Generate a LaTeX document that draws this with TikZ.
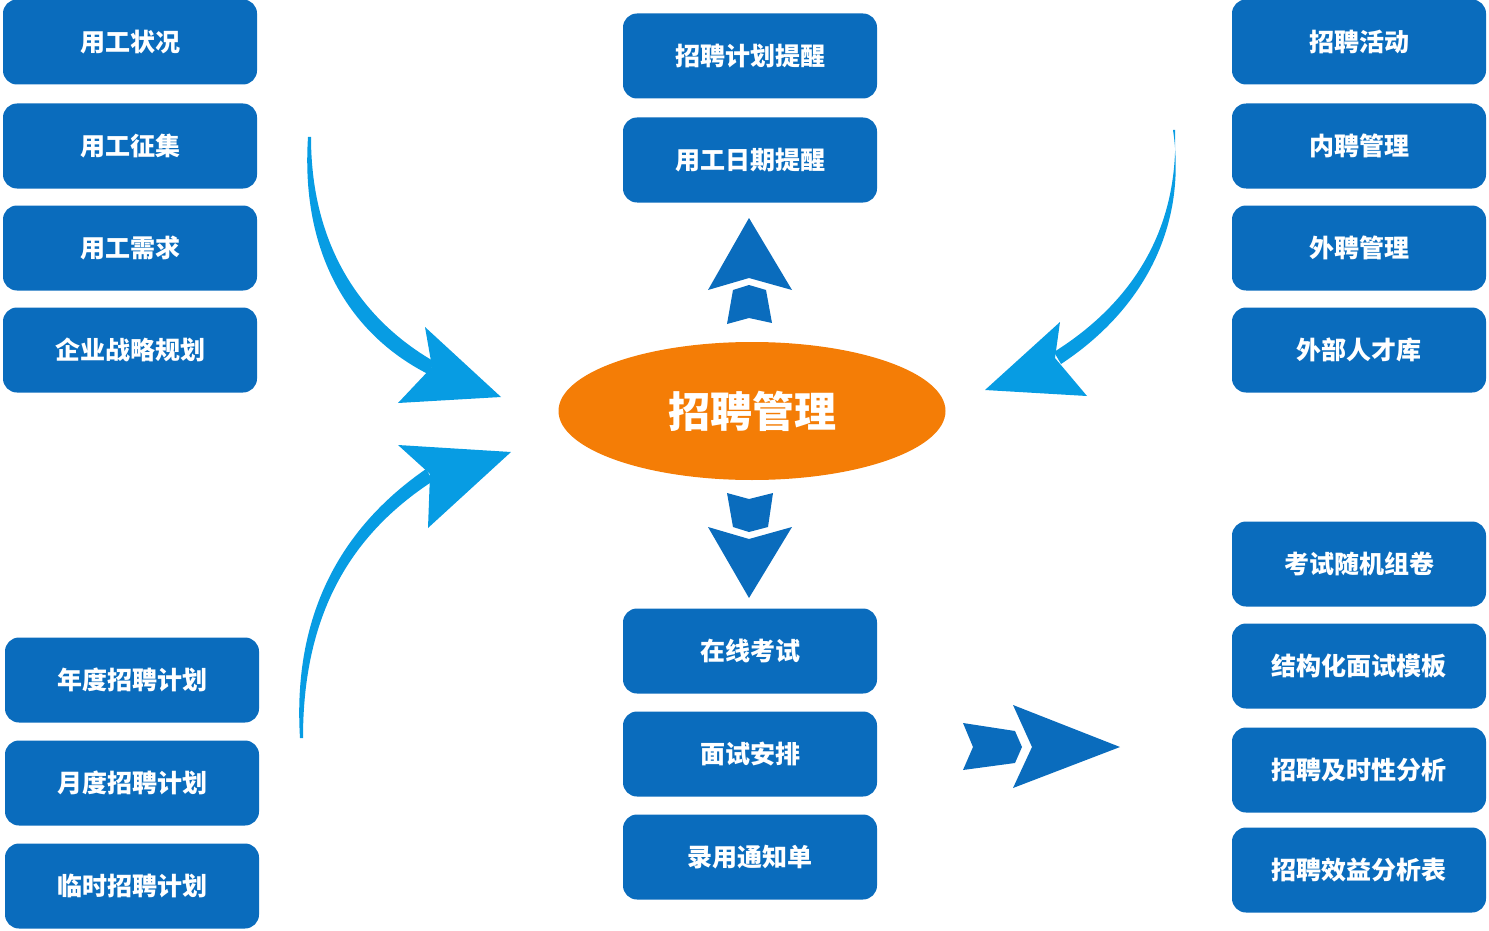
\documentclass[tikz,border=0pt]{standalone}
\usepackage{fontspec}
\setmainfont{Noto Sans CJK SC}
\usetikzlibrary{shapes.geometric}
\definecolor{boxblue}{HTML}{0A6CBD}
\definecolor{lightblue}{HTML}{079CE3}
\definecolor{orangec}{HTML}{F47D06}
\tikzset{
  bluebox/.style={draw=none, fill=boxblue, rounded corners=14pt, minimum width=254pt, minimum height=85pt, inner sep=0pt, text=white, font=\fontsize{25}{29}\selectfont\bfseries},
  curvearrow/.style={fill=lightblue, draw=none},
  blockarrow/.style={fill=boxblue, draw=none}
}
\begin{document}
\begin{tikzpicture}[x=1pt,y=-1pt]
\useasboundingbox (0,0) rectangle (1489,931);
% left column
\node[bluebox] (l1) at (130,42) {用工状况};
\node[bluebox] (l2) at (130,146) {用工征集};
\node[bluebox] (l3) at (130,248) {用工需求};
\node[bluebox] (l4) at (130,350) {企业战略规划};
\node[bluebox] (l5) at (132,680) {年度招聘计划};
\node[bluebox] (l6) at (132,783) {月度招聘计划};
\node[bluebox] (l7) at (132,886) {临时招聘计划};
% center column
\node[bluebox] (c1) at (750,56) {招聘计划提醒};
\node[bluebox] (c2) at (750,160) {用工日期提醒};
\node[bluebox] (c3) at (750,651) {在线考试};
\node[bluebox] (c4) at (750,754) {面试安排};
\node[bluebox] (c5) at (750,857) {录用通知单};
% right column
\node[bluebox] (r1) at (1359,42) {招聘活动};
\node[bluebox] (r2) at (1359,146) {内聘管理};
\node[bluebox] (r3) at (1359,248) {外聘管理};
\node[bluebox] (r4) at (1359,350) {外部人才库};
\node[bluebox] (r5) at (1359,564) {考试随机组卷};
\node[bluebox] (r6) at (1359,666) {结构化面试模板};
\node[bluebox] (r7) at (1359,770) {招聘及时性分析};
\node[bluebox] (r8) at (1359,870) {招聘效益分析表};
% center ellipse
\node[ellipse, fill=orangec, draw=none, minimum width=387pt, minimum height=138pt, inner sep=0pt, text=white, font=\fontsize{42}{48}\selectfont\bfseries] (hub) at (752,411) {招聘管理};

% top-left curved arrow
\fill[curvearrow] (308,137) .. controls (300,260) and (355,337) .. (428,374)
  -- (435,362) .. controls (365,322) and (311,250) .. (311,137) -- cycle;
\fill[curvearrow] (425,327) -- (501,397) -- (398,403) -- (432,367) -- cycle;
% bottom-left curved arrow
\fill[curvearrow] (300,738) .. controls (292,610) and (345,525) .. (426,469)
  -- (433,481) .. controls (350,535) and (303,615) .. (303,738) -- cycle;
\fill[curvearrow] (398,445) -- (511,452) -- (428,528) -- (430,474) -- cycle;
% top-right curved arrow
\fill[curvearrow] (1173,130) .. controls (1188,230) and (1140,312) .. (1061,364)
  -- (1054,352) .. controls (1132,303) and (1179,230) .. (1175,130) -- cycle;
\fill[curvearrow] (1060,322) -- (1055,358) -- (1087,396) -- (985,390) -- cycle;

% up arrow
\fill[blockarrow] (749,218) -- (792,290) -- (749,278) -- (708,290) -- cycle;
\fill[blockarrow] (733,290) -- (749,285) -- (766,290) -- (772,323) -- (749,318) -- (727,324) -- cycle;
% down arrow
\fill[blockarrow] (727,493) -- (749,499) -- (773,493) -- (768,527) -- (749,532) -- (733,527) -- cycle;
\fill[blockarrow] (708,527) -- (749,539) -- (792,527) -- (749,598) -- cycle;
% right arrow
\fill[blockarrow] (963,723) -- (1015,731) -- (1022,747) -- (1015,763) -- (963,770) -- (973,747) -- cycle;
\fill[blockarrow] (1013,705) -- (1120,747) -- (1013,788) -- (1032,747) -- cycle;
\end{tikzpicture}
\end{document}
